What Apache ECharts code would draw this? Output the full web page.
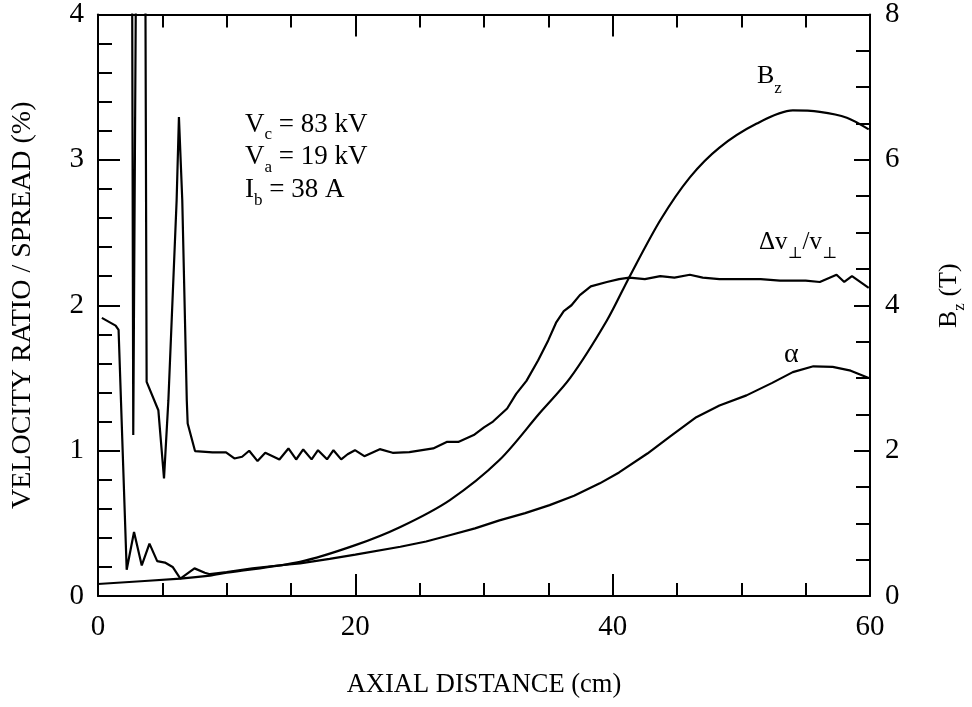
<!DOCTYPE html>
<html><head><meta charset="utf-8">
<script src="https://cdn.jsdelivr.net/npm/echarts@6/dist/echarts.min.js"></script>
<style>html,body{margin:0;padding:0;background:#fff}#c{width:972px;height:707px}</style>
</head><body><div id="c"></div>
<script>
// ---- data ----
const xRange = [0, 60];
const leftRange = [0, 4];
const rightRange = [0, 8];

// Δv⊥/v⊥ spread (left axis, %)
const spreadX = [2.55, 2.74, 3.2, 3.55, 3.78, 4.69, 5.13, 5.47, 6.11, 6.29, 6.55, 6.9, 6.97, 7.54, 8.9, 9.95, 10.6, 11.2, 11.75, 12.4, 13.0, 14.1, 14.8, 15.4, 15.95, 16.6, 17.1, 17.8, 18.3, 18.9, 19.4, 19.97, 20.7, 21.9, 22.9, 24.2, 26.05, 27.1, 28.0, 29.2, 30.0, 30.7, 31.8, 32.5, 33.3, 34.2, 35.0, 35.6, 36.2, 36.8, 37.45, 38.3, 39.55, 40.5, 41.3, 42.5, 43.7, 44.8, 46.0, 47.0, 48.3, 50.0, 51.5, 53.0, 55.0, 56.1, 57.4, 58.0, 58.6, 59.9];
const spreadY = [8, 1.107, 8, 8, 1.473, 1.278, 0.809, 1.347, 2.72, 3.294, 2.72, 1.347, 1.187, 0.997, 0.988, 0.988, 0.946, 0.958, 0.999, 0.928, 0.985, 0.939, 1.015, 0.939, 1.008, 0.94, 1.003, 0.94, 1.003, 0.94, 0.975, 1.003, 0.962, 1.01, 0.985, 0.99, 1.015, 1.06, 1.06, 1.107, 1.16, 1.2, 1.29, 1.39, 1.48, 1.62, 1.76, 1.88, 1.96, 2.0, 2.07, 2.13, 2.16, 2.18, 2.19, 2.18, 2.2, 2.19, 2.21, 2.19, 2.18, 2.18, 2.18, 2.17, 2.17, 2.16, 2.21, 2.16, 2.2, 2.12];

// α velocity ratio (left axis)
const alphaX = [0.3, 1.37, 1.6, 2.23, 2.8, 3.4, 4.0, 4.6, 5.2, 5.8, 6.4, 7.5, 8.3, 8.7, 10, 12, 14, 15.7, 18, 20, 23.5, 25.5, 27.4, 29.3, 31.2, 33.2, 35.1, 37, 39, 40.5, 42.7, 44.5, 46.5, 48.3, 50.4, 52.4, 54, 55.6, 57.1, 58.5, 59.9];
const alphaY = [1.913, 1.86, 1.83, 0.18, 0.44, 0.21, 0.36, 0.24, 0.23, 0.2, 0.12, 0.19, 0.16, 0.15, 0.165, 0.19, 0.21, 0.225, 0.255, 0.285, 0.339, 0.375, 0.42, 0.465, 0.52, 0.57, 0.625, 0.69, 0.775, 0.85, 0.98, 1.1, 1.23, 1.31, 1.38, 1.466, 1.54, 1.58, 1.576, 1.55, 1.5];

// Bz (right axis, T)
const bzX = [0, 6.4, 8.7, 10, 15.7, 20, 23.5, 27.35, 31.2, 34.3, 36.7, 39.55, 41.3, 43.7, 46.0, 48.3, 51.2, 54.0, 56.1, 58.2, 59.9];
const bzY = [0.165, 0.24, 0.28, 0.32, 0.47, 0.7, 0.95, 1.32, 1.87, 2.51, 3.0, 3.79, 4.39, 5.17, 5.76, 6.17, 6.5, 6.68, 6.66, 6.58, 6.42];

const xTickStep = 20, leftTickStep = 1, rightTickStep = 2;

// ---- chart ----
const FONT = '"Liberation Serif", "Times New Roman", "DejaVu Serif", serif';
const zip = (xs, ys) => xs.map((x, i) => [x, ys[i]]);
const measure = (() => { const c = document.createElement('canvas').getContext('2d'); return (t, s) => { c.font = s + 'px ' + FONT; return c.measureText(t).width; }; })();

// builds a row of text pieces with subscripts; base = baseline
function row(parts, x0, base, size, subSize, drop) {
  let x = x0; const els = [];
  for (const p of parts) {
    const s = p[1] ? subSize : size;
    const b = base + (p[1] ? drop : 0);
    els.push({ type: 'text', x: x, y: b - 0.34 * s, silent: true,
      style: { text: p[0], font: s + 'px ' + FONT, fill: '#000', align: 'left', verticalAlign: 'middle', textAlign: 'left', textVerticalAlign: 'middle' } });
    x += measure(p[0], s);
  }
  return els;
}

const black = '#000';
const axisCommon = {
  axisLine: { show: true, onZero: false, lineStyle: { color: black, width: 2 } },
  splitLine: { show: false },
  minorSplitLine: { show: false }
};
const labelStyle = { color: black, fontFamily: FONT, fontSize: 29 };

const chart = echarts.init(document.getElementById('c'), null, { renderer: 'canvas' });
const option = {
  animation: false,
  backgroundColor: '#fff',
  grid: { left: 98, top: 14, width: 772, height: 582 },
  xAxis: [
    Object.assign({}, axisCommon, { type: 'value', position: 'bottom', min: xRange[0], max: xRange[1], interval: xTickStep,
      axisTick: { show: true, inside: true, length: 22, lineStyle: { color: black, width: 2 } },
      minorTick: { show: true, splitNumber: 4, length: 13, lineStyle: { color: black, width: 2 } },
      axisLabel: Object.assign({ margin: 17 }, labelStyle),
      name: 'AXIAL DISTANCE (cm)', nameLocation: 'middle', nameGap: 76,
      nameTextStyle: { color: black, fontFamily: FONT, fontSize: 26.5 } }),
    Object.assign({}, axisCommon, { type: 'value', position: 'top', min: xRange[0], max: xRange[1], interval: xTickStep,
      axisTick: { show: true, inside: true, length: 22, lineStyle: { color: black, width: 2 } },
      minorTick: { show: true, splitNumber: 4, length: 13, lineStyle: { color: black, width: 2 } },
      axisLabel: { show: false } })
  ],
  yAxis: [
    Object.assign({}, axisCommon, { type: 'value', position: 'left', min: leftRange[0], max: leftRange[1], interval: leftTickStep,
      axisTick: { show: true, inside: true, length: 22, lineStyle: { color: black, width: 2 } },
      minorTick: { show: true, splitNumber: 5, length: 14, lineStyle: { color: black, width: 2 } },
      axisLabel: Object.assign({ margin: 14, padding: [4, 0, 0, 0] }, labelStyle),
      name: 'VELOCITY RATIO / SPREAD (%)', nameLocation: 'middle', nameGap: 61, nameRotate: 90,
      nameTextStyle: { color: black, fontFamily: FONT, fontSize: 28 } }),
    Object.assign({}, axisCommon, { type: 'value', position: 'right', min: rightRange[0], max: rightRange[1], interval: rightTickStep,
      axisTick: { show: true, inside: true, length: 16, lineStyle: { color: black, width: 2 } },
      minorTick: { show: true, splitNumber: 4, length: 14, lineStyle: { color: black, width: 2 } },
      axisLabel: Object.assign({ margin: 15, padding: [4, 0, 0, 0] }, labelStyle) })
  ],
  series: [
    { type: 'line', name: 'spread', xAxisIndex: 0, yAxisIndex: 0, data: zip(spreadX, spreadY), symbol: 'none', clip: true,
      lineStyle: { color: black, width: 2.2 }, itemStyle: { color: black } },
    { type: 'line', name: 'alpha', xAxisIndex: 0, yAxisIndex: 0, data: zip(alphaX, alphaY), symbol: 'none', clip: true,
      lineStyle: { color: black, width: 2.2 }, itemStyle: { color: black } },
    { type: 'line', name: 'Bz', xAxisIndex: 0, yAxisIndex: 1, data: zip(bzX, bzY), symbol: 'none', clip: true, smooth: 0.3,
      lineStyle: { color: black, width: 2.2 }, itemStyle: { color: black } }
  ],
  graphic: [].concat(
    row([['V', 0], ['c', 1], [' = 83 kV', 0]], 245, 134, 27, 17, 6),
    row([['V', 0], ['a', 1], [' = 19 kV', 0]], 245, 166, 27, 17, 7),
    row([['I', 0], ['b', 1], [' = 38 A', 0]], 245, 199, 27, 17, 7),
    row([['B', 0], ['z', 1]], 757, 85, 26, 17, 9),
    row([['\u0394v', 0], ['\u22A5', 1], ['/v', 0], ['\u22A5', 1]], 759, 251, 25, 16, 8),
    row([['\u03B1', 0]], 784, 364, 28, 17, 0),
    [{ type: 'group', x: 958, y: 328, rotation: Math.PI / 2, silent: true,
       children: row([['B', 0], ['z', 1], [' (T)', 0]], 0, 0, 26, 17, 7) }]
  )
};
chart.setOption(option);
</script>
</body></html>
